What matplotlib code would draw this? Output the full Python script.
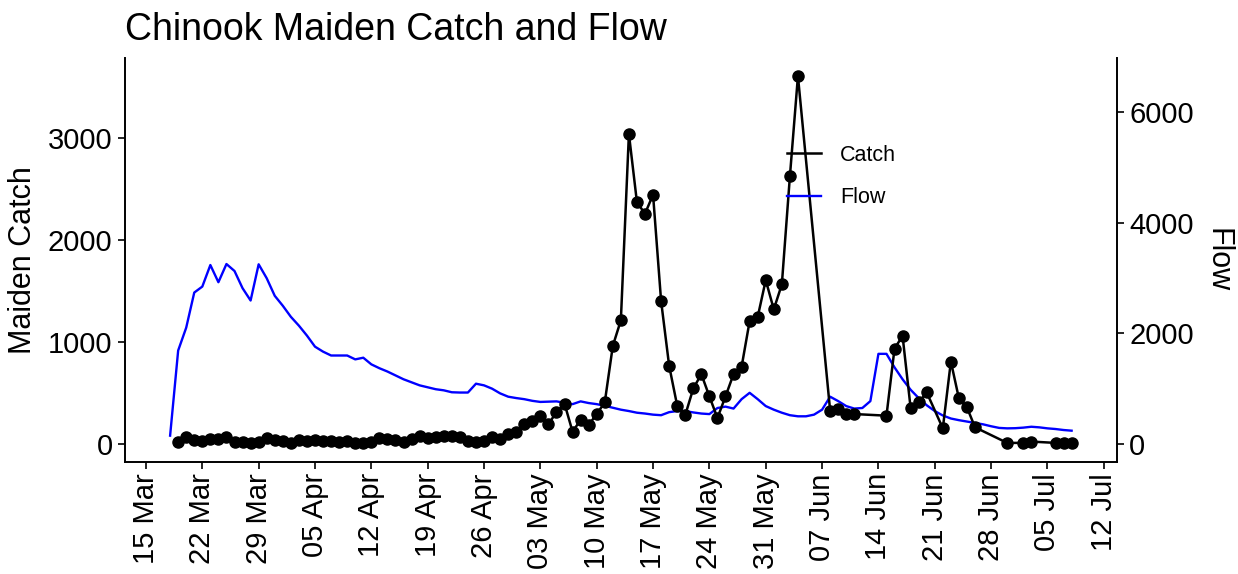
import pandas as pd
import numpy as np
import matplotlib
matplotlib.use('Agg')
import matplotlib.pyplot as plt
import matplotlib.dates as mdates
from matplotlib.lines import Line2D

plt.rcParams['font.family'] = ['Liberation Sans', 'DejaVu Sans']

# catch, sampled days only (gaps in June/July)
catch_dates = ['03-19', '03-20', '03-21', '03-22', '03-23', '03-24', '03-25', '03-26',
               '03-27', '03-28', '03-29', '03-30', '03-31', '04-01', '04-02', '04-03',
               '04-04', '04-05', '04-06', '04-07', '04-08', '04-09', '04-10', '04-11',
               '04-12', '04-13', '04-14', '04-15', '04-16', '04-17', '04-18', '04-19',
               '04-20', '04-21', '04-22', '04-23', '04-24', '04-25', '04-26', '04-27',
               '04-28', '04-29', '04-30', '05-01', '05-02', '05-03', '05-04', '05-05',
               '05-06', '05-07', '05-08', '05-09', '05-10', '05-11', '05-12', '05-13',
               '05-14', '05-15', '05-16', '05-17', '05-18', '05-19', '05-20', '05-21',
               '05-22', '05-23', '05-24', '05-25', '05-26', '05-27', '05-28', '05-29',
               '05-30', '05-31', '06-01', '06-02', '06-03', '06-04', '06-08', '06-09',
               '06-10', '06-11', '06-15', '06-16', '06-17', '06-18', '06-19', '06-20',
               '06-22', '06-23', '06-24', '06-25', '06-26', '06-30', '07-02', '07-03',
               '07-06', '07-07', '07-08']
catch = [22, 72, 39, 33, 45, 49, 72, 22,
         22, 5, 22, 55, 42, 33, 12, 42,
         33, 40, 33, 24, 23, 32, 12, 12,
         23, 55, 49, 42, 23, 49, 75, 55,
         65, 81, 81, 72, 32, 23, 32, 65,
         49, 98, 120, 195, 228, 271, 195, 310,
         395, 120, 235, 186, 293, 407, 961, 1212,
         3040, 2369, 2258, 2444, 1401, 766, 375, 283,
         544, 684, 466, 254, 466, 684, 756, 1205,
         1245, 1606, 1320, 1564, 2623, 3607, 326, 342,
         293, 293, 277, 935, 1059, 352, 407, 505,
         153, 808, 446, 358, 163, 10, 10, 23,
         10, 10, 10]

# daily flow, 18 Mar - 08 Jul
flow_start = '03-18'
flow = [150, 1690, 2104, 2739, 2847, 3237, 2926, 3255, 3129, 2818, 2595, 3250, 2998, 2680,
        2500, 2300, 2140, 1960, 1760, 1670, 1600, 1600, 1600, 1530, 1560, 1440, 1370, 1310,
        1240, 1170, 1115, 1060, 1025, 990, 970, 935, 930, 930, 1090, 1060, 1000, 915,
        855, 830, 810, 780, 760, 765, 770, 745, 720, 770, 740, 720, 690, 655,
        620, 595, 565, 550, 530, 520, 575, 595, 595, 570, 550, 540, 650, 675,
        640, 810, 925, 810, 685, 620, 565, 520, 500, 500, 530, 620, 855, 775,
        685, 640, 650, 775, 1630, 1630, 1385, 1170, 980, 830, 700, 595, 515, 460,
        430, 405, 380, 355, 320, 290, 282, 285, 295, 311, 300, 282, 270, 252, 240]

year = '2021'
cd = pd.to_datetime([year + '-' + d for d in catch_dates])
fd = pd.date_range(year + '-' + flow_start, periods=len(flow), freq='D')

fig = plt.figure(figsize=(12.38, 5.74), dpi=100)
ax = fig.add_axes([0.101, 0.195, 0.801, 0.704])
ax2 = ax.twinx()

ax.plot(cd, catch, color='black', lw=1.8, marker='o', ms=8, zorder=3)
ax2.plot(fd, flow, color='#0000FF', lw=1.7)

ax.set_zorder(2)
ax.patch.set_visible(False)

ax.margins(x=0.05)
ax.set_ylim(-178, 3785)
ax2.set_ylim(-328, 6983)
ax.set_yticks([0, 1000, 2000, 3000])
ax2.set_yticks([0, 2000, 4000, 6000])

ax.xaxis.set_major_locator(mdates.WeekdayLocator(byweekday=mdates.MO))
ax.xaxis.set_major_formatter(mdates.DateFormatter('%d %b'))
for lab in ax.get_xticklabels():
    lab.set_rotation(90)

for a in (ax, ax2):
    a.tick_params(labelsize=21, length=5, width=1.2, pad=4, colors='black')
    for s in a.spines.values():
        s.set_linewidth(1.4)
    a.spines['top'].set_visible(False)
ax.spines['right'].set_visible(False)
ax2.spines['left'].set_visible(False)
ax2.spines['bottom'].set_visible(False)
ax.tick_params(axis='x', pad=3)

ax.set_ylabel('Maiden Catch', fontsize=22, labelpad=7)
ax2.set_ylabel('Flow', fontsize=22, rotation=270, va='bottom', labelpad=6)
ax.set_title('Chinook Maiden Catch and Flow', loc='left', fontsize=27, pad=13)

handles = [Line2D([], [], color='black', lw=1.8), Line2D([], [], color='#0000FF', lw=1.7)]
ax.legend(handles, ['Catch', 'Flow'], loc='center left', bbox_to_anchor=(0.668, 0.707),
          frameon=False, fontsize=15.5, handlelength=1.55, handletextpad=0.9,
          labelspacing=1.0, borderpad=0, borderaxespad=0)

plt.savefig('out.png', dpi=100)
